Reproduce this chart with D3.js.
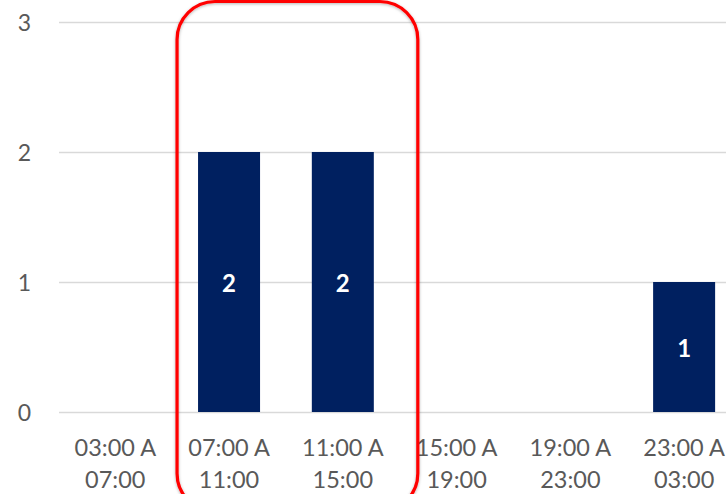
<!DOCTYPE html>
<html><head><meta charset="utf-8">
<script src="https://cdn.jsdelivr.net/npm/d3@7/dist/d3.min.js"></script>
<style>body{margin:0;background:#fff;overflow:hidden}svg{display:block}</style>
</head><body>
<svg id="c" width="726" height="494"></svg>
<script>
const categories = [["03:00 A","07:00"],["07:00 A","11:00"],["11:00 A","15:00"],["15:00 A","19:00"],["19:00 A","23:00"],["23:00 A","03:00"]];
const values = [0, 2, 2, 0, 0, 1];
const yTicks = [0, 1, 2, 3];
const highlighted = [1, 2];

const svg = d3.select("#c");
const font = "Lato, 'Open Sans', sans-serif";
const x = d3.scaleBand().domain(d3.range(categories.length)).range([58.4, 741]).paddingInner(0.455).paddingOuter(0.2275);
const y = d3.scaleLinear().domain([0, 3]).range([412, 22]);

// gridlines
svg.append("g").selectAll("line").data(yTicks).join("line")
  .attr("x1", 59).attr("x2", 741)
  .attr("y1", d => y(d) + 0.5).attr("y2", d => y(d) + 0.5)
  .attr("stroke", "#d9d9d9").attr("stroke-width", 1.3);

// y tick labels
svg.append("g").selectAll("text").data(yTicks).join("text")
  .attr("x", 31).attr("y", d => y(d) + 1).attr("dy", "0.36em")
  .attr("text-anchor", "end").attr("font-family", font).attr("font-size", 23)
  .attr("fill", "#595959").text(d => d);

// bars
const bars = values.map((v, i) => ({v, i})).filter(d => d.v > 0);
svg.append("g").selectAll("rect").data(bars).join("rect")
  .attr("x", d => x(d.i)).attr("width", x.bandwidth())
  .attr("y", d => y(d.v)).attr("height", d => y(0) - y(d.v))
  .attr("fill", "#002060");

svg.append("g").selectAll("text").data(bars).join("text")
  .attr("x", d => x(d.i) + x.bandwidth() / 2)
  .attr("y", d => (y(d.v) + y(0)) / 2 + 1).attr("dy", "0.36em")
  .attr("text-anchor", "middle").attr("font-family", font).attr("font-weight", "bold")
  .attr("font-size", 24).attr("fill", "#fff").text(d => d.v);

// x labels
const xl = svg.append("g").selectAll("text").data(categories).join("text")
  .attr("text-anchor", "middle").attr("font-family", font).attr("font-size", 23.5).attr("fill", "#595959")
  .attr("transform", (d, i) => `translate(${x(i) + x.bandwidth() / 2},0)`);
xl.append("tspan").attr("x", 0).attr("y", 456).text(d => d[0]);
xl.append("tspan").attr("x", 0).attr("y", 488).text(d => d[1]);

// highlight rounded rect
const hx0 = x(highlighted[0]) - 21, hx1 = x(highlighted[highlighted.length - 1]) + x.bandwidth() + 44;
const defs = svg.append("defs");
const f = defs.append("filter").attr("id", "sh").attr("x", "-10%").attr("y", "-10%").attr("width", "120%").attr("height", "120%");
f.append("feDropShadow").attr("dx", 0).attr("dy", 1).attr("stdDeviation", 1.5).attr("flood-color", "#000").attr("flood-opacity", 0.3);
svg.append("rect").attr("x", hx0).attr("y", 1.5).attr("width", hx1 - hx0).attr("height", 510)
  .attr("rx", 38).attr("ry", 38).attr("fill", "none").attr("stroke", "#ff0000").attr("stroke-width", 3.2)
  .attr("filter", "url(#sh)");
</script>
</body></html>
